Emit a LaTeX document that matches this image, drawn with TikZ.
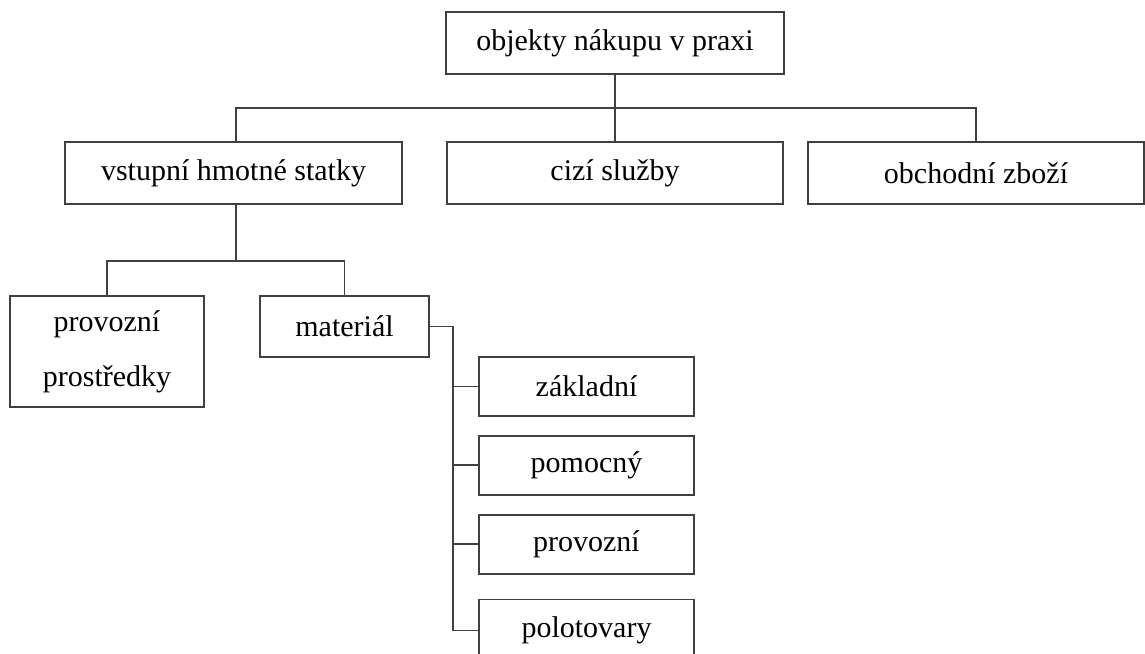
\documentclass[tikz,border=0pt]{standalone}
\usepackage{fontspec}
\setmainfont{Liberation Serif}
\usetikzlibrary{positioning}
\definecolor{ink}{RGB}{64,64,64}

\begin{document}
\begin{tikzpicture}[
  x=0.5pt, y=-0.5pt,
  font=\fontsize{15}{27.5}\selectfont,
  node distance=9pt,
  obj/.style={draw=ink, fill=white, align=center, inner sep=0pt,
    minimum width=168pt, minimum height=31pt, line width=0.9pt},
  sub/.style={obj, minimum width=107.5pt, minimum height=29.5pt},
  link/.style={draw=ink, line width=0.9pt}
]
\useasboundingbox (0,0) rectangle (1145,653);
% top level
\node[obj, minimum width=169pt] (top) at (615,43) {objekty nákupu v praxi};
\node[obj, minimum width=168.5pt] (vst) at (233.5,173) {vstupní hmotné statky};
\node[obj] (ciz) at (615,173) {cizí služby};
\node[obj] (obc) at (976,173) {obchodní zboží};
% second level
\node[obj, minimum width=97pt, minimum height=55.5pt] (pro) at (107,351.5) {provozní\\prostředky};
\node[obj, minimum width=84.5pt, minimum height=30.5pt] (mat) at (344.5,326.5) {materiál};
% material column
\node[sub] (zak) at (586.5,386.5) {základní};
\node[sub, below=of zak] (pom) {pomocný};
\node[sub, below=of pom] (prv) {provozní};
\node[sub, below=12pt of prv, minimum height=31pt] (pol) {polotovary};

\coordinate (bus) at (615,108);
\coordinate (fork) at (236,261);
\coordinate (spine) at (453,326.5);
\draw[link] (top) -- (ciz);
\draw[link] (vst.north -| fork) |- (bus) -| (obc.north);
\draw[link] (vst.south -| fork) -- (fork);
\draw[link] (pro.north) |- (fork) -| (mat.north);
\draw[link] (mat.east) -- (spine) |- (pol.west);
\foreach \n in {zak,pom,prv}
  \draw[link] (\n.west) -- (\n.west -| spine);
\end{tikzpicture}
\end{document}
